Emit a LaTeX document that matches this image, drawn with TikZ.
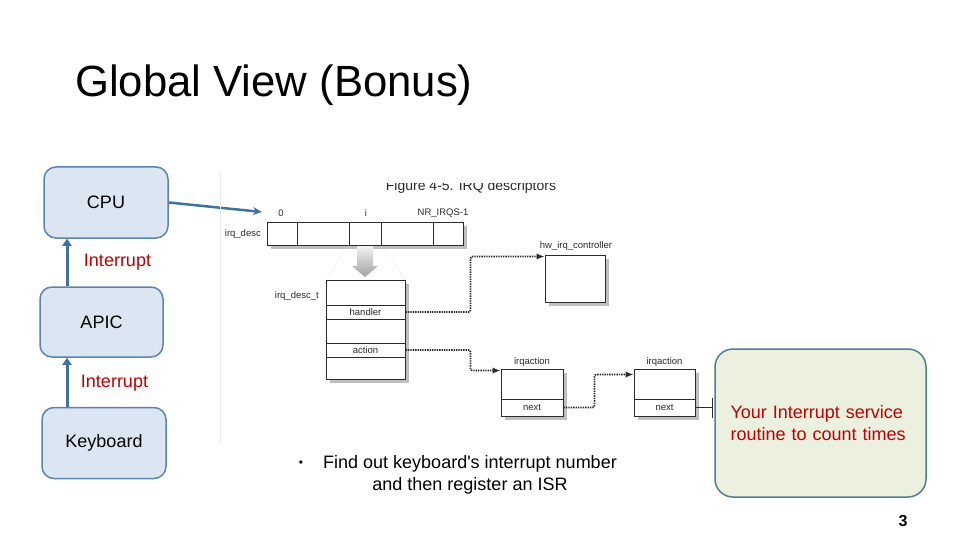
\documentclass[tikz,border=0pt]{standalone}
\usepackage{fontspec}
\setmainfont{Liberation Sans}
\usepackage{xcolor}
\definecolor{slideblue}{HTML}{41719C}
\definecolor{boxfill}{HTML}{DCE6F2}
\definecolor{boxedge}{HTML}{5B84B1}
\definecolor{isrfill}{HTML}{EBF1DE}
\definecolor{isredge}{HTML}{4F7F96}
\definecolor{alertred}{HTML}{C00000}
\definecolor{figink}{HTML}{2B2B2B}
\usetikzlibrary{arrows.meta, positioning, shadows}

\begin{document}
\begin{tikzpicture}[x=1pt, y=-1pt,
  hwbox/.style={rectangle, rounded corners=12pt, draw=boxedge, line width=1.5pt,
    fill=boxfill, minimum width=124pt, minimum height=71pt,
    font=\fontsize{18}{20}\selectfont},
  intlabel/.style={font=\fontsize{18}{20}\selectfont, text=alertred},
  intarrow/.style={-{Triangle[width=9pt,length=7pt]}, line width=3pt, color=slideblue},
  figbox/.style={rectangle, draw=figink, line width=1pt, fill=white, inner sep=0pt},
  figshadow/.style={drop shadow={shadow xshift=4pt, shadow yshift=-4pt, fill=black!50}},
  figtext/.style={font=\fontsize{9.5}{10}\selectfont, text=figink, inner sep=1pt},
  dotlink/.style={-{Latex[length=8pt,width=6.5pt]}, dash pattern=on 1.4pt off 1pt,
    line width=1.7pt, color=figink, rounded corners=2pt},
  wedge/.style={draw=black!30, dotted, thin}
]
\fill[white] (0,0) rectangle (960,540);
\node[anchor=base west, font=\fontsize{43.7}{48}\selectfont] (title) at (71.5,97) {Global View (Bonus)};

% hardware path
\node[hwbox] (cpu) at (106,202.5) {CPU};
\node[hwbox, minimum width=123pt, minimum height=70pt] (apic) at (101.5,322) {APIC};
\node[hwbox] (kbd) at (104,443) {Keyboard};
\draw[intarrow] (apic.north -| 67,0) -- (cpu.south -| 67,0);
\draw[intarrow] (kbd.north -| 67,0) -- (apic.south -| 67,0);
\node[intlabel] (int1) at (117.5,262) {Interrupt};
\node[intlabel] (int2) at (114.5,383) {Interrupt};

\coordinate (tab) at (262,212);
\draw[-{Stealth[length=9pt,width=8pt]}, line width=2.5pt, slideblue] (cpu.east) -- (tab);

% figure of the descriptors
\draw[black!8] (220,172) -- (220,445);
\begin{scope}
  \clip (300,183) rectangle (640,200);
  \node[anchor=base, font=\fontsize{14}{16}\selectfont, text=figink] (cap) at (471,190.5) {Figure 4-5. IRQ descriptors};
\end{scope}

\node[figbox, figshadow, minimum width=196pt, minimum height=23pt] (arr) at (365,233.5) {};
\foreach \x in {297,349,381,433}
  \draw[figink, line width=1pt] (\x,0 |- arr.north) -- (\x,0 |- arr.south);
\node[figtext] (lab0) at (281,213) {0};
\node[figtext] (labi) at (366,213) {i};
\node[figtext] (labn) at (443,213) {NR\_IRQS-1};
\node[figtext, anchor=east] (labdesc) at (262,234) {irq\_desc};

\node[figbox, figshadow, minimum width=79pt, minimum height=99pt] (desc) at (365.5,329.5) {};
\node[figbox, figtext, minimum width=79pt, minimum height=14pt] (handler) at (365.5,312) {handler};
\node[figbox, figtext, minimum width=79pt, minimum height=14pt] (action) at (365.5,350) {action};
\node[figtext, anchor=east] (labdt) at (320,296) {irq\_desc\_t};

\draw[wedge] (349,245) -- (desc.north west);
\draw[wedge] (381,245) -- (desc.north east);
\shade[top color=gray!10, bottom color=gray!75]
  (357,246) -- (373,246) -- (373,266) -- (378,266) -- (365,277) -- (352,266) -- (357,266) -- cycle;

\node[figbox, figshadow, minimum width=60pt, minimum height=47pt] (hw) at (575,278.5) {};
\node[figtext] (labhw) at (576,246) {hw\_irq\_controller};

\node[figbox, figshadow, minimum width=62pt, minimum height=47pt] (act1) at (532,392.5) {};
\node[figbox, figtext, minimum width=62pt, minimum height=17pt] (next1) at (532,407.5) {next};
\node[figtext, above=1pt of act1] (lab1) {irqaction};
\node[figbox, figshadow, minimum width=61pt, minimum height=47pt] (act2) at (664.5,392.5) {};
\node[figbox, figtext, minimum width=61pt, minimum height=17pt] (next2) at (664.5,407.5) {next};
\node[figtext, above=1pt of act2] (lab2) {irqaction};

\draw[dotlink] (handler.east) -- ++(65,0) |- ([yshift=-2pt]hw.north west);
\draw[dotlink] (action.east) -- ++(65,0) |- ([yshift=-2pt]act1.north west);
\draw[dotlink] (next1.east) -- ++(31,0) |- ([yshift=-6pt]act2.north west);

% the handler to write
\node[rectangle, rounded corners=18pt, draw=isredge, line width=1.5pt, fill=isrfill,
  minimum width=211pt, minimum height=148pt, text=alertred, text width=180pt, align=left,
  font=\fontsize{18}{21.5}\selectfont] (isr) at (820.5,423)
  {Your Interrupt service\\routine to count times};
\coordinate (nullend) at (713,407.5);
\draw[-{Bar[width=20pt]}, line width=1.5pt, figink] (next2.east) -- (nullend);

\node[font=\fontsize{12}{14}\selectfont] (dot) at (301,464) {\textbullet};
\node[font=\fontsize{18}{22}\selectfont, align=center] (note) at (470,475)
  {Find out keyboard\textquotesingle s interrupt number\\and then register an ISR};
\node[font=\fontsize{16}{18}\selectfont\bfseries] (pgnum) at (903,521) {3};
\end{tikzpicture}
\end{document}
